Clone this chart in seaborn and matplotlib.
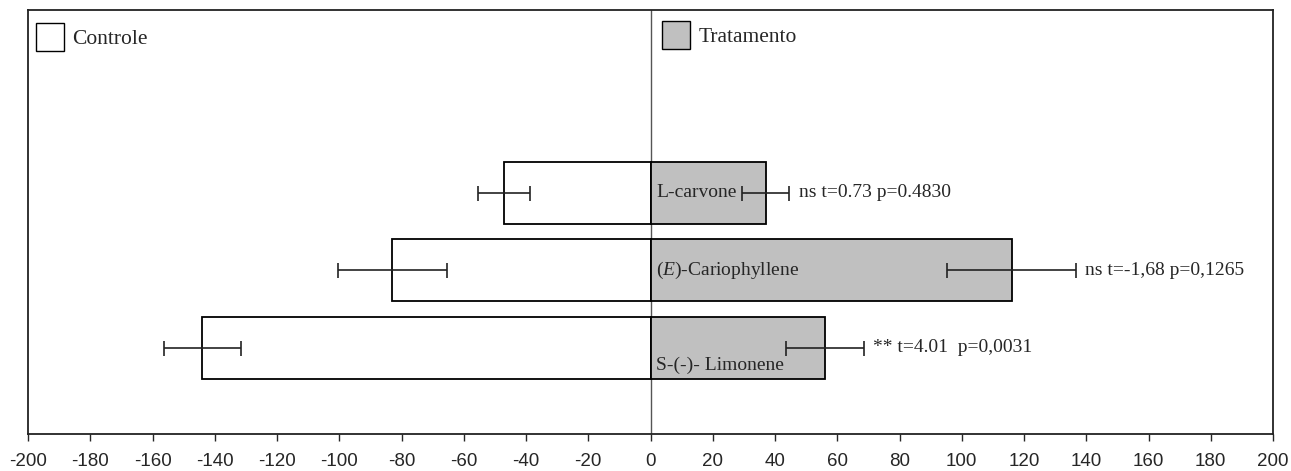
import matplotlib
matplotlib.use("Agg")
import matplotlib.pyplot as plt
from matplotlib.patches import Patch
import seaborn as sns
import pandas as pd

# valores (média e erro)
compostos = ["L-carvone", "(E)-Cariophyllene", "S-(-)- Limonene"]
rotulos = ["L-carvone", r"($\it{E}$)-Cariophyllene", "S-(-)- Limonene"]
controle = [-47, -83, -144]
controle_err = [8.3, 17.5, 12.3]
tratamento = [37, 116, 56]
tratamento_err = [7.6, 20.6, 12.5]
estatistica = ["ns t=0.73 p=0.4830", "ns t=-1,68 p=0,1265", "** t=4.01  p=0,0031"]

sns.set_style("white")
plt.rcParams["font.family"] = ["Liberation Serif", "DejaVu Serif"]
plt.rcParams["mathtext.fontset"] = "custom"
plt.rcParams["mathtext.rm"] = "Liberation Serif"
plt.rcParams["mathtext.it"] = "Liberation Serif:italic"
plt.rcParams["axes.unicode_minus"] = False

df = pd.DataFrame({
    "composto": compostos * 2,
    "valor": controle + tratamento,
    "grupo": ["Controle"] * 3 + ["Tratamento"] * 3,
})
cores = {"Controle": "white", "Tratamento": "#c0c0c0"}

fig = plt.figure(figsize=(12.91, 4.71), dpi=100)
ax = fig.add_axes([0.0217, 0.0786, 0.9644, 0.9002])

sns.barplot(data=df, x="valor", y="composto", hue="grupo", order=compostos,
            dodge=False, palette=cores, edgecolor="black", linewidth=1.3,
            width=0.8, errorbar=None, legend=False, ax=ax)

pos = range(len(compostos))
ax.errorbar(controle, pos, xerr=controle_err, fmt="none", ecolor="#222222",
            elinewidth=1.2, capsize=5.4, capthick=1.2)
ax.errorbar(tratamento, pos, xerr=tratamento_err, fmt="none", ecolor="#222222",
            elinewidth=1.2, capsize=5.4, capthick=1.2)

ax.axvline(0, color="#555555", lw=1.0, zorder=0.5)

for i, (rot, v, e, txt) in enumerate(zip(rotulos, tratamento, tratamento_err, estatistica)):
    dy = 0.23 if i == 2 else 0.0
    ax.text(1.8, i + dy, rot, fontsize=14, va="center", ha="left")
    ax.text(v + e + 3, i, txt, fontsize=14, va="center", ha="left")

ax.set_xlim(-200, 200)
ax.set_ylim(3.11, -2.36)
ax.set_xticks(range(-200, 201, 20))
ax.set_yticks([])
ax.set_xlabel("")
ax.set_ylabel("")
ax.tick_params(axis="x", direction="out", length=5, width=1, pad=9,
               bottom=True, labelsize=13.5)
for lab in ax.get_xticklabels():
    lab.set_fontfamily(["Liberation Sans", "DejaVu Sans"])
for s in ax.spines.values():
    s.set_color("#222222")
    s.set_linewidth(1.3)

estilo_leg = dict(loc="upper left", borderaxespad=0, borderpad=0,
                  frameon=False, fontsize=15.5, handlelength=1.3,
                  handleheight=1.65, handletextpad=0.4)
leg1 = ax.legend(handles=[Patch(facecolor="white", edgecolor="black", lw=1)],
                 labels=["Controle"], bbox_to_anchor=(0.0064, 0.969),
                 **estilo_leg)
ax.add_artist(leg1)
ax.legend(handles=[Patch(facecolor="#c0c0c0", edgecolor="black", lw=1)],
          labels=["Tratamento"], bbox_to_anchor=(0.509, 0.974), **estilo_leg)

fig.savefig("out.png", dpi=100)
